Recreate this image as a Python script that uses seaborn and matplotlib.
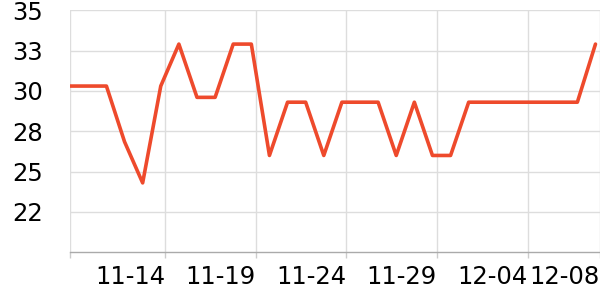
import matplotlib
matplotlib.use("Agg")
import matplotlib.pyplot as plt
import seaborn as sns
import pandas as pd
import numpy as np

# Data
dates = pd.date_range("2023-11-08 18:00", periods=30, freq="D")
temps = [30.3, 30.3, 30.3, 26.85, 24.3, 30.3, 32.9, 29.6, 29.6, 32.9,
         32.9, 26.0, 29.3, 29.3, 26.0, 29.3, 29.3, 29.3, 26.0, 29.3,
         26.0, 26.0, 29.3, 29.3, 29.3, 29.3, 29.3, 29.3, 29.3, 32.9]
xtick_dates = ["2023-11-14", "2023-11-19", "2023-11-24", "2023-11-29", "2023-12-04", "2023-12-08"]
xtick_labels = ["11-14", "11-19", "11-24", "11-29", "12-04", "12-08"]
ytick_values = [22.5, 25, 27.5, 30, 32.5, 35]
ytick_labels = ["22", "25", "28", "30", "33", "35"]

df = pd.DataFrame({"date": dates, "temp": temps})

sns.set_theme(style="white")
plt.rcParams['font.family'] = ['DejaVu Sans']

fig = plt.figure(figsize=(6, 3), dpi=100)
ax = fig.add_axes([0.117, 0.159, 0.883, 0.807])

sns.lineplot(data=df, x="date", y="temp", ax=ax, color="#ee4a2c", linewidth=2.6)

x0 = dates[0]
x1 = pd.Timestamp("2023-12-08 00:00")
ax.set_xlim(x0, x1)
ax.set_ylim(20, 35)

xt = [x0] + [pd.Timestamp(d) for d in xtick_dates]
ax.set_xticks(xt)
ax.set_xticklabels([""] + xtick_labels, ha="right")
ax.set_yticks(ytick_values)
ax.set_yticklabels(ytick_labels)

ax.grid(True, color="#dddddd", linewidth=1)
ax.set_axisbelow(True)
for s in ["top", "right", "left"]:
    ax.spines[s].set_visible(False)
ax.spines["bottom"].set_color("#aaaaaa")
ax.spines["bottom"].set_linewidth(1)

ax.tick_params(axis="x", length=4, width=1, color="#cccccc", pad=5, labelsize=17.5, labelcolor="black", bottom=True)
ax.tick_params(axis="y", length=0, pad=19.5, labelsize=17.5, labelcolor="black")
ax.set_xlabel("")
ax.set_ylabel("")

fig.savefig("out.png", dpi=100)
